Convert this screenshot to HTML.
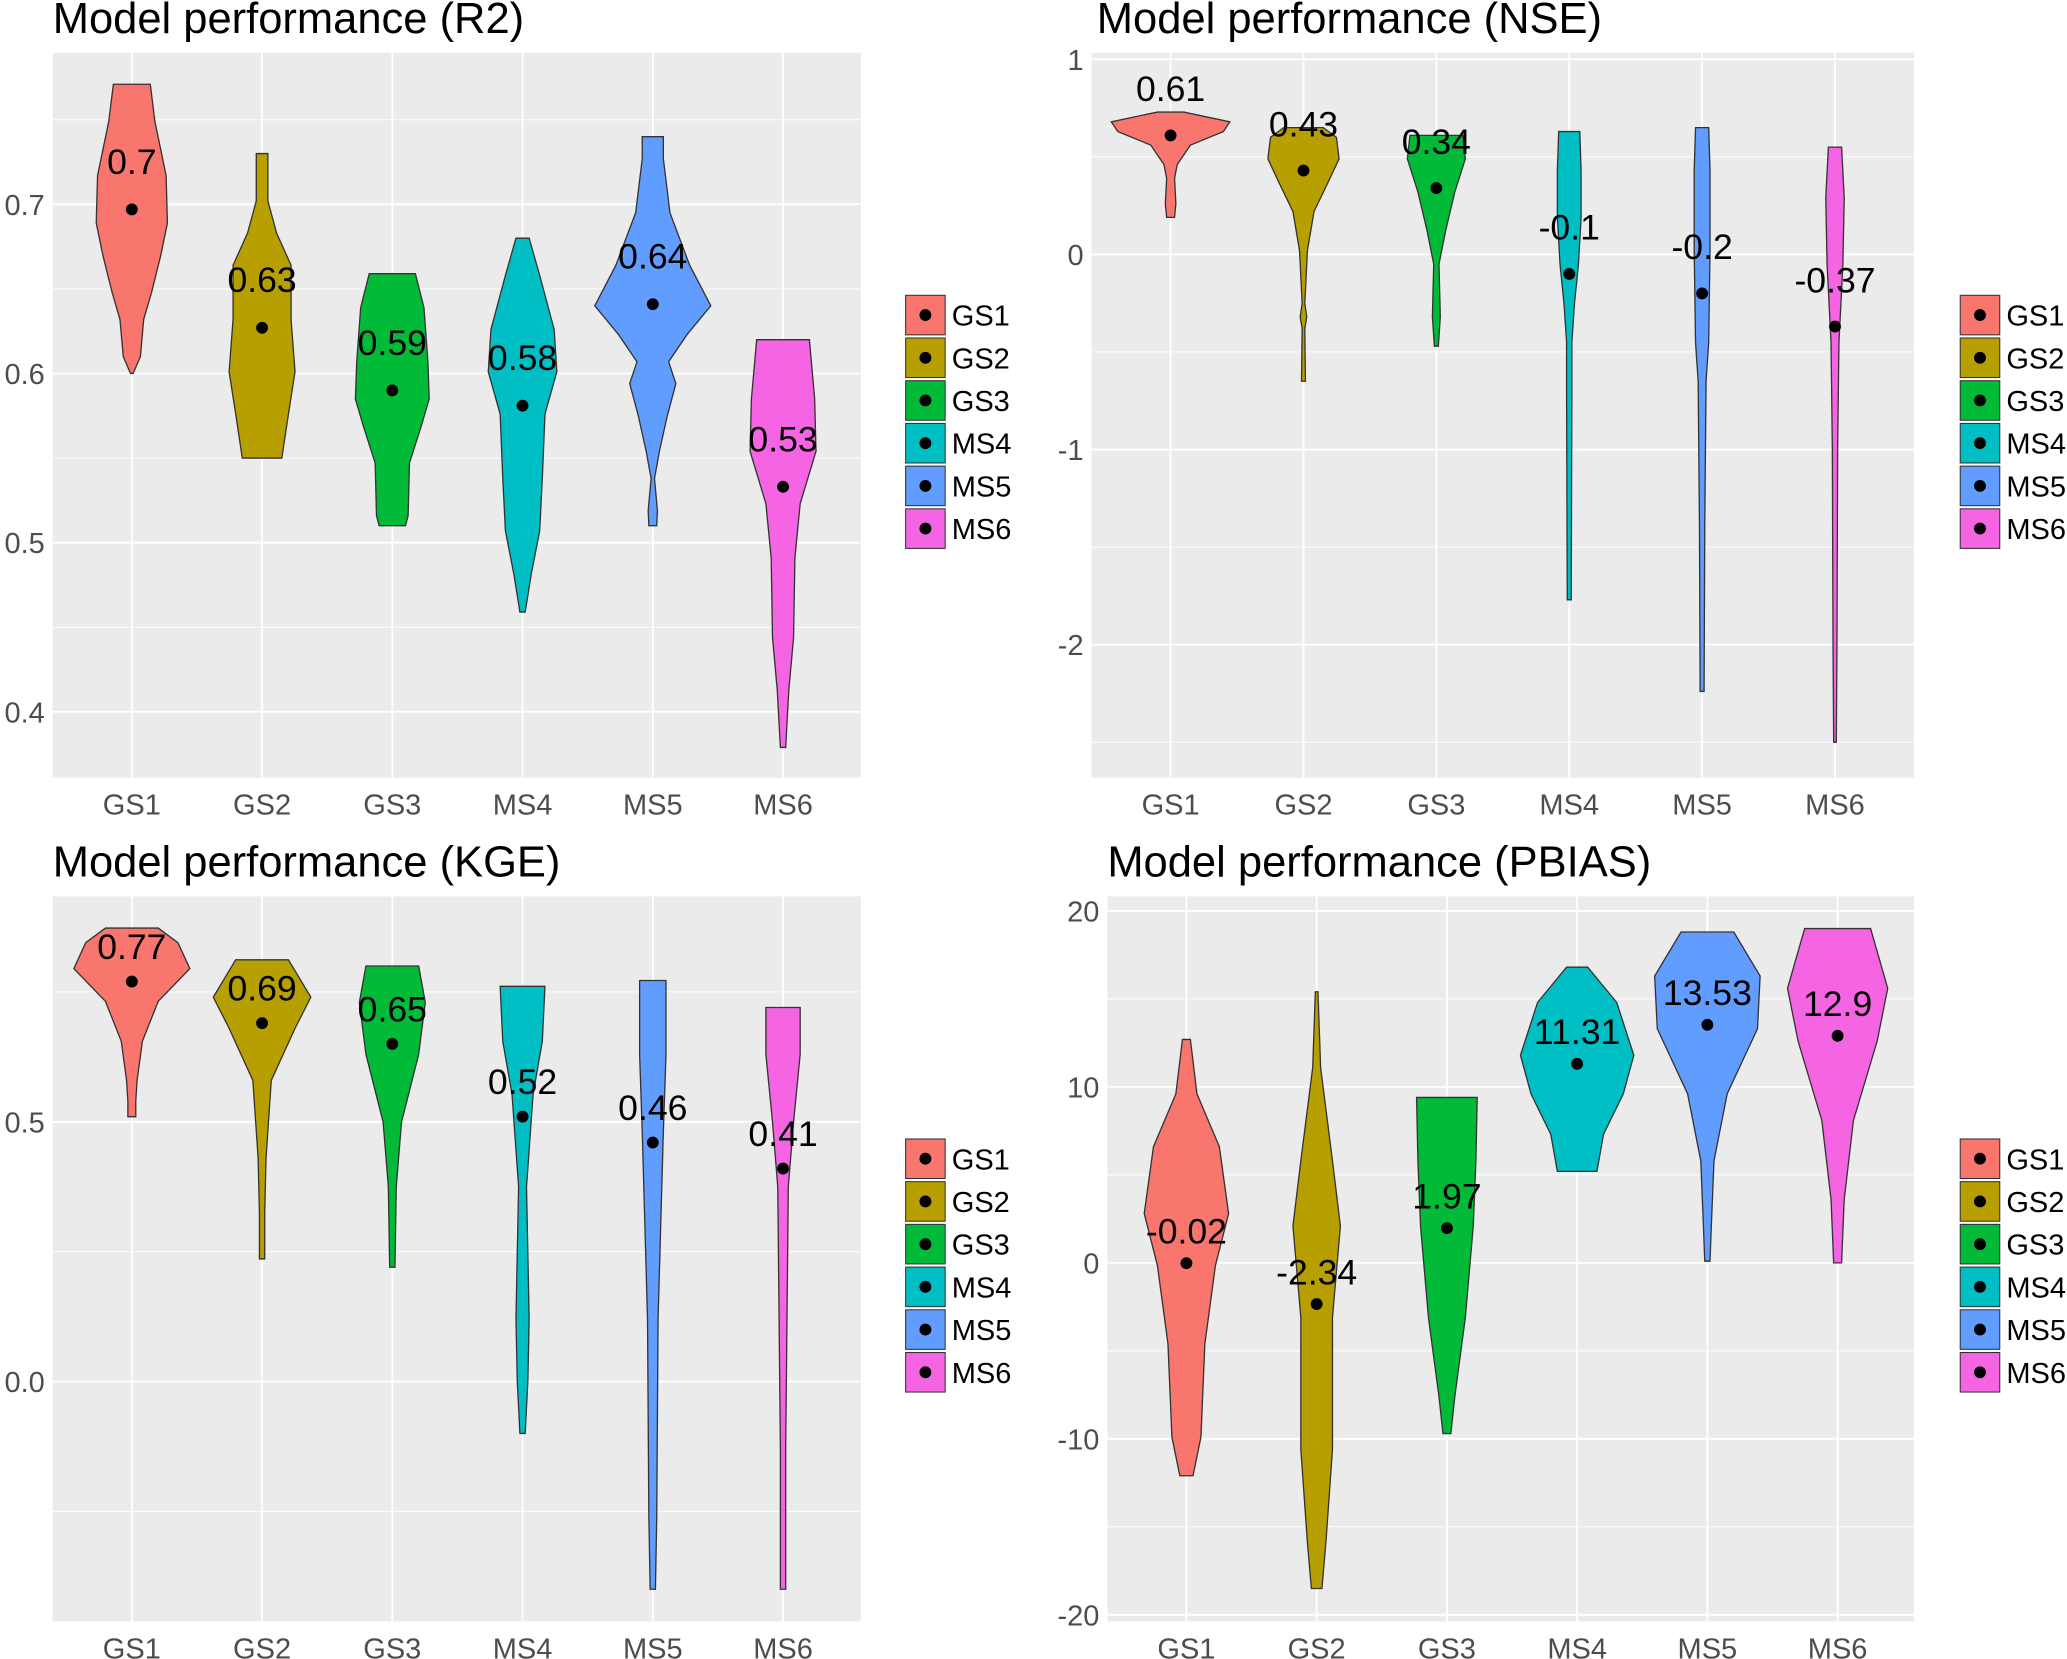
<!DOCTYPE html>
<html><head><meta charset="utf-8">
<style>
html,body{margin:0;padding:0;background:#fff;}
svg{display:block;font-family:"Liberation Sans",Arial,sans-serif;}
</style></head>
<body>
<svg id="fig" width="2067" height="1659" viewBox="0 0 1568 1258.5" xmlns="http://www.w3.org/2000/svg"></svg>
<script>
const categories = ["GS1","GS2","GS3","MS4","MS5","MS6"];
const colors = ["#F8766D","#B79F00","#00BA38","#00BFC4","#619CFF","#F564E3"];

// R2
const r2Means = [0.697,0.627,0.590,0.581,0.641,0.533];
const r2Labels = ["0.7","0.63","0.59","0.58","0.64","0.53"];
const r2Ticks = [0.4,0.5,0.6,0.7];
const r2TickLabels = ["0.4","0.5","0.6","0.7"];
const r2Profiles = [
 [[0.771,14],[0.749,17.5],[0.717,26],[0.689,27],[0.670,22],[0.648,15],[0.632,9],[0.610,6.5],[0.600,1]],
 [[0.730,4.4],[0.702,4.4],[0.683,11],[0.664,22],[0.632,22],[0.601,25],[0.576,20],[0.550,15]],
 [[0.659,17.5],[0.639,24],[0.607,27],[0.585,28],[0.569,22],[0.547,13],[0.516,12],[0.510,10]],
 [[0.680,5],[0.658,13],[0.626,24],[0.601,26],[0.576,17],[0.538,15],[0.507,13],[0.481,6.5],[0.459,2]],
 [[0.740,8],[0.727,8],[0.695,13],[0.664,28],[0.640,44],[0.623,26],[0.607,12],[0.594,17.5],[0.575,11],[0.554,5],[0.538,1.3],[0.519,3.5],[0.510,3]],
 [[0.620,20],[0.585,24],[0.554,25],[0.523,13],[0.491,9],[0.444,8],[0.413,4.4],[0.379,2]]
];

// NSE
const nseMeans = [0.61,0.43,0.34,-0.10,-0.20,-0.37];
const nseLabels = ["0.61","0.43","0.34","-0.1","-0.2","-0.37"];
const nseTicks = [-2,-1,0,1];
const nseTickLabels = ["-2","-1","0","1"];
const nseProfiles = [
 [[0.73,10],[0.68,45],[0.63,40],[0.56,15],[0.46,5],[0.39,3],[0.26,4],[0.19,3]],
 [[0.65,15],[0.60,25],[0.49,27],[0.36,18],[0.22,8],[0.02,3],[-0.25,1],[-0.32,2.5],[-0.38,1],[-0.65,1.5]],
 [[0.61,20],[0.49,22],[0.32,14],[0.12,7],[-0.05,2],[-0.32,3],[-0.47,1.5]],
 [[0.63,8],[0.43,9],[0.19,9],[-0.05,7],[-0.25,4],[-0.45,2],[-0.72,2],[-1.77,1.5]],
 [[0.65,5],[0.43,6],[0.02,6],[-0.45,5],[-0.65,3],[-1.40,2],[-2.24,1.5]],
 [[0.55,5],[0.29,7],[-0.05,6],[-0.45,3],[-1.0,2],[-2.0,1.5],[-2.5,1]]
];

// KGE
const kgeMeans = [0.77,0.69,0.65,0.51,0.46,0.41];
const kgeLabels = ["0.77","0.69","0.65","0.52","0.46","0.41"];
const kgeTicks = [0.0,0.5];
const kgeTickLabels = ["0.0","0.5"];
const kgeProfiles = [
 [[0.873,20],[0.845,35],[0.795,44],[0.732,20],[0.655,8],[0.58,4],[0.54,3],[0.51,3]],
 [[0.812,20],[0.74,37],[0.68,25],[0.58,7],[0.43,3],[0.325,2],[0.236,2]],
 [[0.80,20],[0.73,25],[0.63,20],[0.50,7],[0.375,3],[0.22,2]],
 [[0.761,17],[0.655,15],[0.553,8],[0.375,3],[0.12,5],[0.0,4],[-0.1,2]],
 [[0.772,10],[0.63,10],[0.48,8],[0.12,4],[-0.26,3],[-0.40,2]],
 [[0.72,13],[0.63,13],[0.50,8],[0.375,4],[-0.13,2],[-0.40,2]]
];

// PBIAS
const pbMeans = [-0.02,-2.34,1.97,11.31,13.53,12.9];
const pbLabels = ["-0.02","-2.34","1.97","11.31","13.53","12.9"];
const pbTicks = [-20,-10,0,10,20];
const pbTickLabels = ["-20","-10","0","10","20"];
const pbProfiles = [
 [[12.7,3],[9.6,8],[6.6,25],[2.8,32],[-0.15,22],[-4.6,14],[-9.9,11],[-12.1,5]],
 [[15.4,1],[11.1,3],[5.8,12],[2.1,18],[-3.1,12],[-10.6,12],[-15.9,7],[-18.5,4]],
 [[9.4,23],[5.8,22],[2.1,20],[-3.1,14],[-7.6,6],[-9.7,3]],
 [[16.8,8],[14.8,30],[11.8,43],[9.6,35],[7.3,20],[5.2,15]],
 [[18.8,20],[16.3,40],[13.3,38],[9.6,15],[5.8,5],[2.1,3],[0.1,2]],
 [[19.0,25],[15.6,38],[12.6,30],[8.1,12],[3.6,5],[0.0,3]]
];

const NS="http://www.w3.org/2000/svg";
const svg=document.getElementById('fig');
function mk(tag,attrs,parent){const e=document.createElementNS(NS,tag);for(const k in attrs)e.setAttribute(k,attrs[k]);(parent||svg).appendChild(e);return e;}

function panel(cfg){
  const g=mk('g',{});
  
  
  const {x0,x1,y0,y1,v0,p0,v1,p1}=cfg;
  const yS=v=>p0+(v-v0)*(p1-p0)/(v1-v0);
  const xS=i=>cfg.cx0+i*cfg.dx;
  const t=mk('text',{x:cfg.titleX,y:cfg.titleY,'font-size':33,fill:'#000'},g);t.textContent=cfg.title;
  
  
  const bg=mk('rect',{x:x0,y:y0,width:x1-x0,height:y1-y0,fill:'#EBEBEB'},g);
  
  
  const tk=cfg.ticks, step=tk[1]-tk[0];
  for(let k=-1;k<tk.length;k++){const v=tk[0]+(k+0.5)*step;const y=yS(v);if(y>y0&&y<y1)mk('line',{x1:x0,x2:x1,y1:y,y2:y,stroke:'#fff','stroke-width':0.7},g);}
  tk.forEach((v,i)=>{const y=yS(v);mk('line',{x1:x0,x2:x1,y1:y,y2:y,stroke:'#fff','stroke-width':1.4},g);
    const lb=mk('text',{x:x0-6,y:y+8,'font-size':22,fill:'#4D4D4D','text-anchor':'end'},g);lb.textContent=cfg.tickLabels[i];
    
    });
  categories.forEach((c,i)=>{const x=xS(i);mk('line',{x1:x,x2:x,y1:y0,y2:y1,stroke:'#fff','stroke-width':1.4},g);
    const lb=mk('text',{x:x,y:y1+28,'font-size':22,fill:'#4D4D4D','text-anchor':'middle'},g);lb.textContent=c;
    
    });
  categories.forEach((c,i)=>{
    const pr=cfg.profiles[i], cx=xS(i);
    let d='';
    pr.forEach((p,j)=>{d+=(j?'L':'M')+(cx+p[1]).toFixed(1)+','+yS(p[0]).toFixed(1);});
    for(let j=pr.length-1;j>=0;j--){d+='L'+(cx-pr[j][1]).toFixed(1)+','+yS(pr[j][0]).toFixed(1);}
    d+='Z';
    const v=mk('path',{d:d,fill:colors[i],stroke:'#333','stroke-width':1},g);
    
    
    const dt=mk('circle',{cx:cx,cy:yS(cfg.means[i]),r:4.5,fill:'#000'},g);
    
    
    const lb=mk('text',{x:cx,y:yS(cfg.means[i])-cfg.labOff+9,'font-size':27,fill:'#000','text-anchor':'middle'},g);
    lb.textContent=cfg.labels[i];
    
    
  });
  categories.forEach((c,i)=>{
    const ky=cfg.legY+i*32.4;
    const r=mk('rect',{x:cfg.legX,y:ky,width:30,height:30,fill:colors[i],stroke:'#333','stroke-width':0.8},g);
    
    
    mk('circle',{cx:cfg.legX+15,cy:ky+15,r:4.5,fill:'#000'},g);
    const lt=mk('text',{x:cfg.legX+35,y:ky+23,'font-size':22,fill:'#000'},g);lt.textContent=c;
    
    
  });
}

panel({name:'panel-r2',title:'Model performance (R2)',titleX:40,titleY:25,x0:40,x1:653,y0:40,y1:590,v0:0.7,p0:155,v1:0.4,p1:540,
  cx0:100,dx:98.8,ticks:r2Ticks,tickLabels:r2TickLabels,profiles:r2Profiles,means:r2Means,labels:r2Labels,labOff:36,legX:687,legY:224});
panel({name:'panel-nse',title:'Model performance (NSE)',titleX:832,titleY:25,x0:828,x1:1452,y0:40,y1:590,v0:1,p0:45,v1:-2,p1:489,
  cx0:888,dx:100.8,ticks:nseTicks,tickLabels:nseTickLabels,profiles:nseProfiles,means:nseMeans,labels:nseLabels,labOff:35,legX:1487,legY:224});
panel({name:'panel-kge',title:'Model performance (KGE)',titleX:40,titleY:665,x0:40,x1:653,y0:680,y1:1230,v0:0.5,p0:851,v1:0.0,p1:1048,
  cx0:100,dx:98.8,ticks:kgeTicks,tickLabels:kgeTickLabels,profiles:kgeProfiles,means:kgeMeans,labels:kgeLabels,labOff:26,legX:687,legY:864});
panel({name:'panel-pbias',title:'Model performance (PBIAS)',titleX:840,titleY:665,x0:840,x1:1452,y0:680,y1:1230,v0:20,p0:691,v1:-20,p1:1225,
  cx0:900,dx:98.8,ticks:pbTicks,tickLabels:pbTickLabels,profiles:pbProfiles,means:pbMeans,labels:pbLabels,labOff:24,legX:1487,legY:864});
</script>
</body></html>
